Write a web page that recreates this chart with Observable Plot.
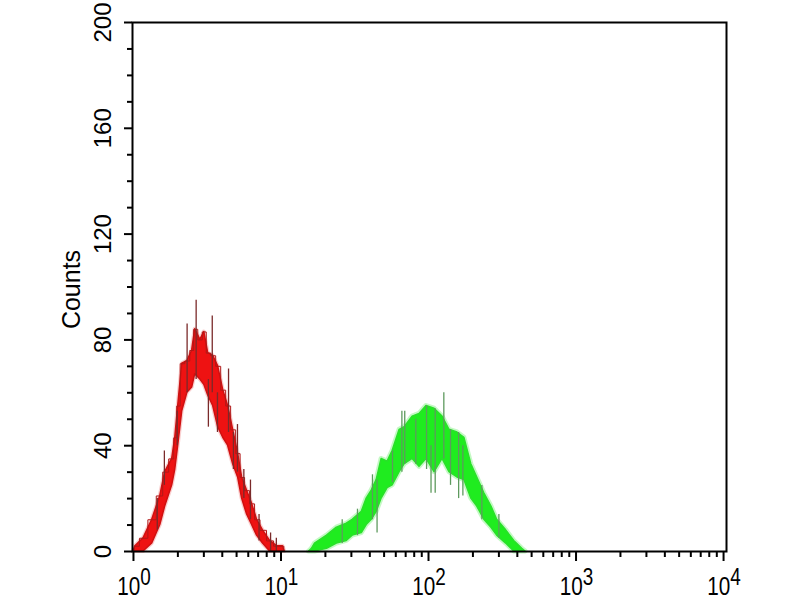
<!DOCTYPE html>
<html><head><meta charset="utf-8">
<script src="https://cdn.jsdelivr.net/npm/d3@7"></script>
<script src="https://cdn.jsdelivr.net/npm/@observablehq/plot@0.6"></script>
<style>html,body{margin:0;padding:0;background:#fff;overflow:hidden}</style>
</head><body><div id="chart"></div>
<script>
// ---- axis ticks ----
const xMajor = [1, 10, 100, 1000, 10000];
const xExponents = ["0", "1", "2", "3", "4"];
const xMinor = [2, 3, 4, 5, 6, 7, 8, 9, 20, 30, 40, 50, 60, 70, 80, 90,
  200, 300, 400, 500, 600, 700, 800, 900, 2000, 3000, 4000, 5000, 6000, 7000, 8000, 9000];
const yMajor = [0, 40, 80, 120, 160, 200];
const yMinor = [10, 20, 30, 50, 60, 70, 90, 100, 110, 130, 140, 150, 170, 180, 190];
const yTitle = "Counts";

// ---- red histogram (isotype control): channel value, band top, band bottom ----
const redX  = [1.00, 1.03, 1.17, 1.34, 1.52, 1.64, 1.83, 1.92, 2.01, 2.14, 2.32, 2.50, 2.62, 2.84, 3.02, 3.21, 3.47, 3.75, 4.06, 4.38, 4.74, 5.12, 5.45, 5.89, 6.37, 6.88, 7.55, 8.43, 9.40, 10.3, 10.6];
const redHi = [0, 2, 5, 12, 21, 30, 35, 43, 55, 71, 72, 76, 84, 80, 83, 75, 74, 70, 61, 55, 46, 37, 28, 23, 18, 12, 8, 4, 2, 2, 0];
const redLo = [0, 0, 0, 3, 10, 17, 25, 31, 40, 53, 60, 62, 67, 65, 63, 59, 55, 47, 43, 40, 33, 28, 20, 14, 10, 6, 3, 0, 0, 0, 0];
// spikes
const redSpikeX  = [1.45, 1.62, 1.98, 2.31, 2.66, 3.22, 3.42, 3.71, 4.41, 4.76, 5.07, 5.6, 6.21, 7.1, 8.5, 9.3];
const redSpikeLo = [8, 25, 40, 60, 65, 47, 60, 45, 45, 31, 30, 20, 12, 4, 0, 0];
const redSpikeHi = [20, 38, 53, 86, 95, 65, 89, 60, 69, 45, 48, 31, 27, 14, 7, 5];

// ---- green histogram (antibody) ----
const greenX  = [15.5, 16.2, 17.0, 20.5, 23.9, 27.9, 30.6, 35.3, 38.1, 41.2, 44.5, 48.1, 52.8, 57.1, 63.7, 68.9, 78.0, 86.9, 96.9, 109.8, 124.4, 138.7, 157, 175, 195, 214, 239, 267, 292, 336, 381, 432, 455];
const greenHi = [0, 1, 3, 6, 9, 10.5, 12, 15, 20, 23, 27, 35, 34, 38, 46, 47, 51, 52, 55, 54, 51, 46, 45, 43, 33, 28, 22, 17, 12, 8, 4, 1, 0];
const greenLo = [0, 0, 0, 1, 3, 4, 6, 7, 10, 12, 15, 20, 24, 25, 30, 33, 35, 32, 35, 30, 35, 30, 28, 27, 20, 17, 12, 9, 6, 3, 0, 0, 0];
const greenSpikeX  = [26, 33, 41.7, 44.8, 57, 66, 69, 82, 97, 104, 111, 127, 141, 160, 171, 230, 300];
const greenSpikeLo = [3, 6, 12, 7, 26, 30, 33, 33, 31, 22, 22, 35, 25, 20, 21, 12, 5];
const greenSpikeHi = [12, 16, 29, 27, 38, 53, 53, 50, 55, 40, 54, 60, 46, 45, 40, 25, 14];

const red = redX.map((x, i) => ({x, hi: redHi[i], lo: redLo[i]}));
const redSpikes = redSpikeX.map((x, i) => ({x, lo: redSpikeLo[i], hi: redSpikeHi[i]}));
const green = greenX.map((x, i) => ({x, hi: greenHi[i], lo: greenLo[i]}));
const greenSpikes = greenSpikeX.map((x, i) => ({x, lo: greenSpikeLo[i], hi: greenSpikeHi[i]}));

const font = "'Liberation Sans', Arial, Helvetica, sans-serif";

const chart = Plot.plot({
  width: 800, height: 600,
  marginLeft: 132, marginRight: 74, marginTop: 22, marginBottom: 49,
  style: {background: "white", fontFamily: font, color: "black", overflow: "visible"},
  x: {type: "log", domain: [0.985, 10470], label: null},
  y: {domain: [0, 200], label: null},
  marks: [
    // green glow + band
    Plot.areaY(green, {x: "x", y1: "lo", y2: "hi", fill: "#9cf59c", stroke: "#9cf59c", strokeWidth: 5, strokeOpacity: 0.6}),
    Plot.areaY(green, {x: "x", y1: "lo", y2: "hi", fill: "#1fec1f", stroke: "#2ae02a", strokeWidth: 1.5}),
    Plot.ruleX(greenSpikes, {x: "x", y1: "lo", y2: "hi", stroke: "#5e9a5e", strokeWidth: 1.3}),
    // red band
    Plot.areaY(red, {x: "x", y1: "lo", y2: "hi", fill: "#f5a0a0", stroke: "#f5a0a0", strokeWidth: 4, strokeOpacity: 0.5}),
    Plot.areaY(red, {x: "x", y1: "lo", y2: "hi", fill: "#ee1212", stroke: "#d01010", strokeWidth: 1.5}),
    Plot.lineY(red, {x: "x", y: "hi", stroke: "#b01818", strokeWidth: 1, curve: "step"}),
    Plot.ruleX(redSpikes, {x: "x", y1: "lo", y2: "hi", stroke: "#7a2a2a", strokeWidth: 1.3}),
    // axes
    Plot.axisX({ticks: xMinor, tickSize: 6, tickFormat: () => "", strokeWidth: 2, label: null}),
    Plot.axisX({ticks: xMajor, tickSize: 10, tickFormat: () => "", strokeWidth: 2, label: null}),
    Plot.axisY({ticks: yMinor, tickSize: 5, tickFormat: () => "", strokeWidth: 2, label: null}),
    Plot.axisY({ticks: yMajor, tickSize: 8, tickFormat: () => "", strokeWidth: 2, label: null}),
    Plot.text(yMajor, {y: d => d, text: d => String(d), frameAnchor: "left", dx: -22, rotate: -90,
      textAnchor: "middle", lineAnchor: "bottom", fontSize: 24, fill: "black"}),
    Plot.text([yTitle], {text: d => d, frameAnchor: "left", dx: -53, dy: 2.5, rotate: -90,
      textAnchor: "middle", lineAnchor: "bottom", fontSize: 25, fill: "black"}),
    Plot.frame({stroke: "black", strokeWidth: 2})
  ]
});
document.getElementById("chart").appendChild(chart);

// x tick labels as 10 with superscript exponent, placed through the plot's x scale
const xs = chart.scale("x");
const svg = d3.select(chart);
const g = svg.append("g").attr("font-family", font).attr("fill", "black");
xMajor.forEach((v, i) => {
  const t = g.append("text")
    .attr("text-anchor", "middle")
    .attr("transform", `translate(${xs.apply(v) + 1},595) scale(0.9,1.1)`)
    .attr("font-size", 23);
  t.append("tspan").text("10");
  t.append("tspan").attr("dy", -9).attr("font-size", 21).text(xExponents[i]);
});
</script>
</body></html>
